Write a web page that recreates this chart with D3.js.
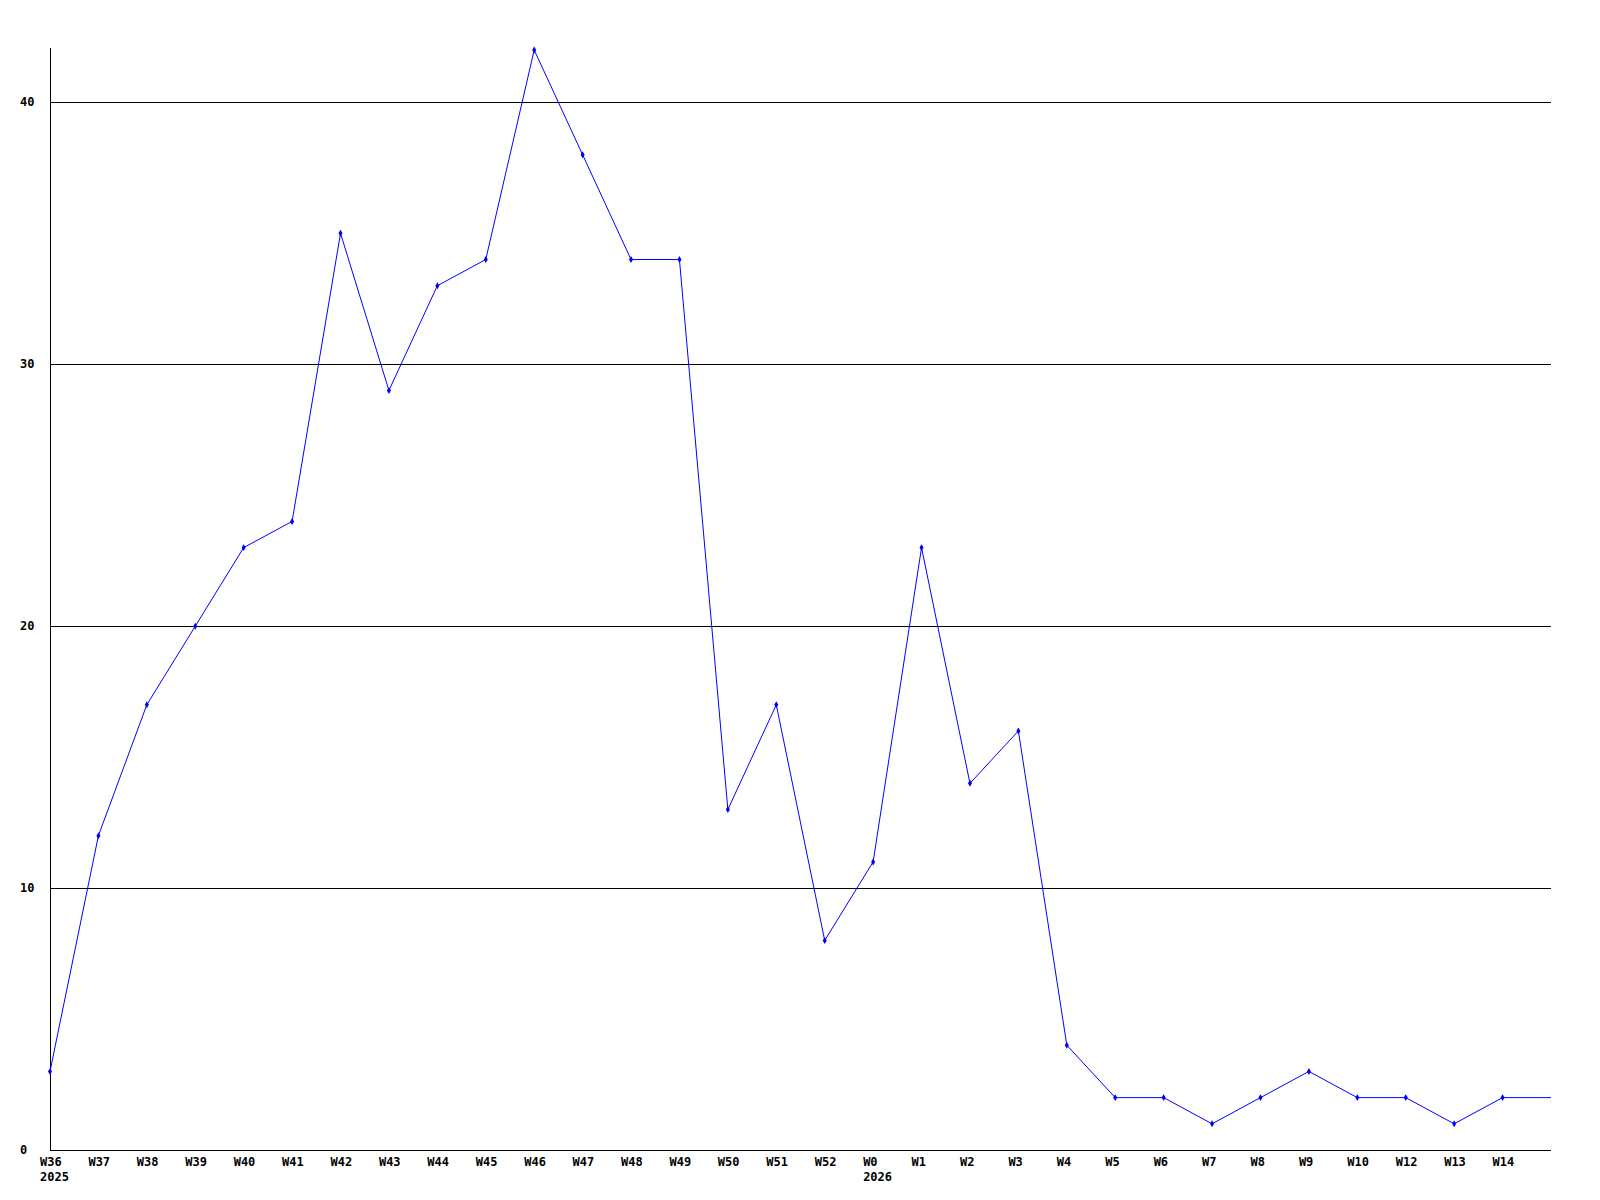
<!DOCTYPE html>
<html><head><meta charset="utf-8">
<script src="https://cdn.jsdelivr.net/npm/d3@7"></script>
<style>
html,body{margin:0;padding:0;background:#fff;}
text{font-family:"DejaVu Sans Mono",monospace;font-weight:bold;font-size:12px;fill:#000;}
</style></head>
<body>
<svg id="chart" width="1600" height="1200"></svg>
<script>
const weeks = ["W36","W37","W38","W39","W40","W41","W42","W43","W44","W45","W46","W47","W48","W49","W50","W51","W52","W0","W1","W2","W3","W4","W5","W6","W7","W8","W9","W10","W12","W13","W14"];
const years = {"W36":"2025","W0":"2026"};
const values = [3,12,17,20,23,24,35,29,33,34,42,38,34,34,13,17,8,11,23,14,16,4,2,2,1,2,3,2,2,1,2];
const yTicks = [0,10,20,30,40];

(function(){
const svg = d3.select("#chart");
const mLeft = 50, mRight = 1551, mTop = 50, mBottom = 1150;

const x = d3.scaleLinear().domain([0, weeks.length]).range([mLeft, mRight]);
const y = d3.scaleLinear().domain([0, 42]).range([mBottom, mTop]);

// gridlines
svg.append("g").selectAll("line").data(yTicks.filter(d => d > 0)).join("line")
  .attr("x1", mLeft).attr("x2", mRight)
  .attr("y1", d => Math.round(y(d)) + 0.5).attr("y2", d => Math.round(y(d)) + 0.5)
  .attr("stroke", "#000").attr("stroke-width", 1).attr("shape-rendering", "crispEdges");

// axes lines
svg.append("line").attr("x1", mLeft + 0.5).attr("x2", mLeft + 0.5).attr("y1", mTop - 2).attr("y2", mBottom)
  .attr("stroke", "#000").attr("shape-rendering", "crispEdges");
svg.append("line").attr("x1", mLeft).attr("x2", mRight).attr("y1", mBottom + 0.5).attr("y2", mBottom + 0.5)
  .attr("stroke", "#000").attr("shape-rendering", "crispEdges");

// y labels
svg.append("g").selectAll("text").data(yTicks).join("text")
  .attr("x", 20).attr("y", d => y(d) + 4)
  .text(d => d);

// x labels
svg.append("g").selectAll("text").data(weeks).join("text")
  .attr("x", (d, i) => x(i) - 10).attr("y", mBottom + 16)
  .text(d => d);
svg.append("g").selectAll("text").data(weeks.filter(w => years[w])).join("text")
  .attr("x", d => x(weeks.indexOf(d)) - 10).attr("y", mBottom + 31)
  .text(d => years[d]);

// line (last value extends flat to the right edge)
const pts = values.map((v, i) => [x(i), y(v)]);
pts.push([x(weeks.length), y(values[values.length - 1])]);
svg.append("path").attr("d", d3.line()(pts))
  .attr("fill", "none").attr("stroke", "#0000ff").attr("stroke-width", 1);

// markers
svg.append("g").selectAll("path").data(values).join("path")
  .attr("transform", (d, i) => `translate(${x(i)},${y(d)})`)
  .attr("d", d3.symbol(d3.symbolDiamond, 14)())
  .attr("fill", "#0000ff");
})();
</script>
</body></html>
